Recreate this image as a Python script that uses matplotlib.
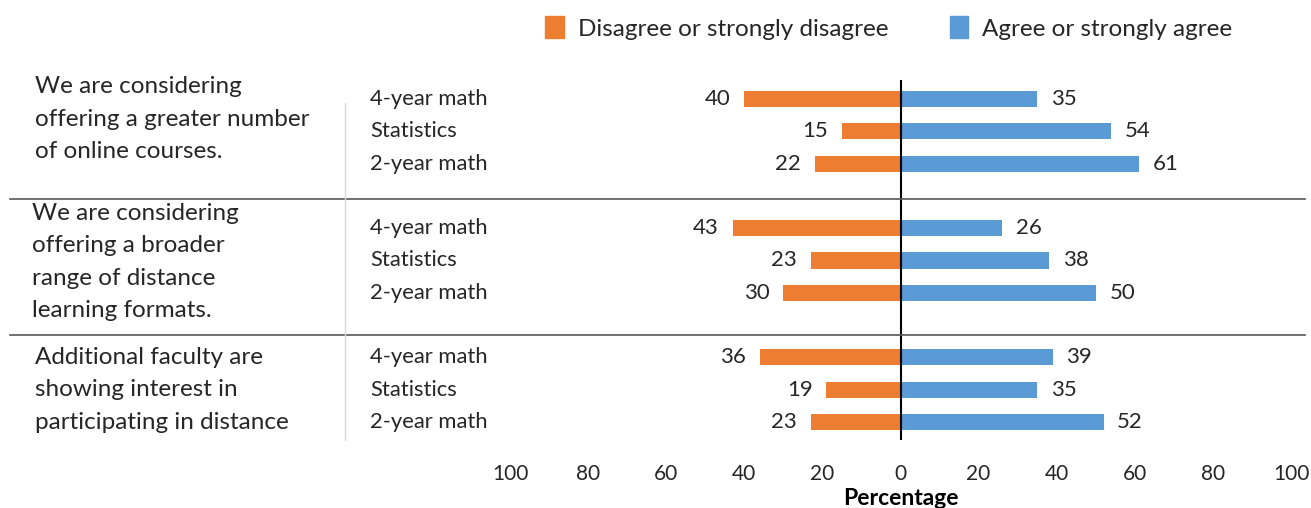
import numpy as np
import matplotlib.pyplot as plt
from matplotlib.lines import Line2D
from matplotlib.patches import Patch

plt.rcParams['font.family'] = ['Lato', 'DejaVu Sans']

preguntas = [
    "We are considering\noffering a greater number\nof online courses.",
    "We are considering\noffering a broader\nrange of distance\nlearning formats.",
    "Additional faculty are\nshowing interest in\nparticipating in distance",
]
cursos = ["4-year math", "Statistics", "2-year math"]
desacuerdo = [[40, 15, 22], [43, 23, 30], [36, 19, 23]]
acuerdo = [[35, 54, 61], [26, 38, 50], [39, 35, 52]]

color_naranja = "#ED7D31"
color_azul = "#5B9BD5"

fig = plt.figure(figsize=(13.11, 5.08), dpi=100)
W, H = 1311, 508
ax = fig.add_axes([510 / W, 1 - 440 / H, (1291 - 510) / W, (440 - 80) / H])

for g in range(3):
    for i in range(3):
        y = g * 4 + i
        d = desacuerdo[g][i]
        a = acuerdo[g][i]
        ax.barh(y, -d, height=0.5, color=color_naranja)
        ax.barh(y, a, height=0.5, color=color_azul)
        ax.text(-d - 3.5, y, str(d), ha="right", va="center", fontsize=16, color="#262626")
        ax.text(a + 3.5, y, str(a), ha="left", va="center", fontsize=16, color="#262626")
        ax.text(-0.179, y, cursos[i], ha="left", va="center", fontsize=15.8,
                color="#262626", transform=ax.get_yaxis_transform())

ax.set_xlim(-100, 100)
ax.set_ylim(10.56, -0.59)
ax.axvline(0, color="black", lw=1.5)
for s in ax.spines.values():
    s.set_visible(False)
ax.set_yticks([])
ticks = np.arange(-100, 101, 20)
ax.set_xticks(ticks)
ax.set_xticklabels([str(abs(t)) for t in ticks], fontsize=15, color="#262626")
ax.tick_params(axis="x", length=0, pad=17)
ax.set_xlabel("Percentage", fontsize=16.5, fontweight="bold", labelpad=3)

# etiquetas de las preguntas
pos_preguntas = [(35, 119), (32, 262), (35, 390)]
for texto, (px, py) in zip(preguntas, pos_preguntas):
    fig.text(px / W, 1 - py / H, texto, ha="left", va="center", fontsize=17.5,
             color="#262626", linespacing=1.66)

# lineas separadoras
for py in [199, 335]:
    fig.add_artist(Line2D([10 / W, 1305 / W], [1 - py / H, 1 - py / H],
                          color="#595959", lw=1.2))
fig.add_artist(Line2D([345 / W, 345 / W], [1 - 103 / H, 1 - 440 / H],
                      color="#d9d9d9", lw=1))

handles = [Patch(color=color_naranja, label="Disagree or strongly disagree"),
           Patch(color=color_azul, label="Agree or strongly agree")]
fig.legend(handles=handles, ncol=2, loc="center", bbox_to_anchor=(889 / W, 1 - 28 / H),
           frameon=False, fontsize=17.5, handlelength=0.75, handleheight=1.0,
           columnspacing=2.5, handletextpad=0.6, labelcolor="#262626")

plt.savefig("out.png", dpi=100)
